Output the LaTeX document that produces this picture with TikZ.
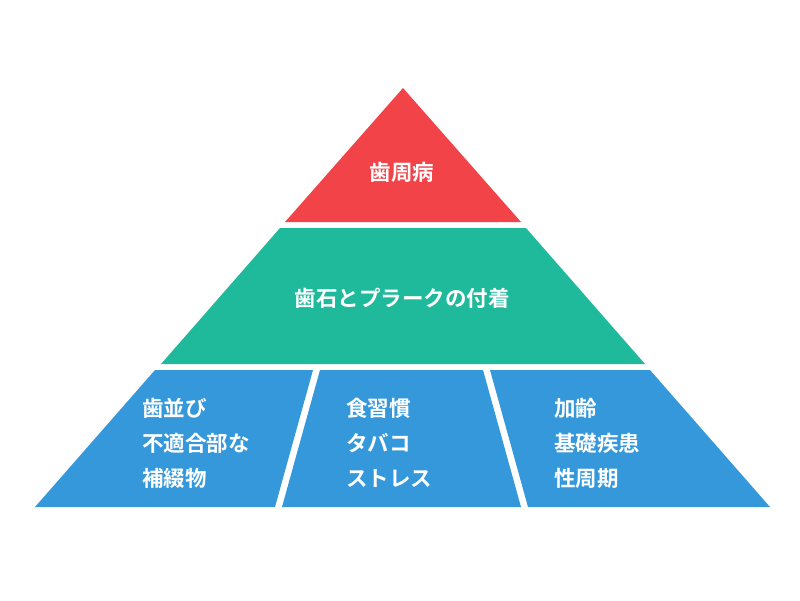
\documentclass[tikz,border=0pt]{standalone}
\usepackage{fontspec}
\newfontfamily\jp{Noto Sans CJK JP Bold}
\definecolor{topred}{HTML}{F24349}
\definecolor{midgreen}{HTML}{1FBA9B}
\definecolor{lowblue}{HTML}{3498DB}
\begin{document}
\begin{tikzpicture}[x=1pt,y=-1pt]
\tikzstyle{lbl} = [text=white, font=\jp\fontsize{21.5}{35}\selectfont, inner sep=0pt]
\tikzstyle{col} = [lbl, anchor=west, align=left]
\useasboundingbox (0,0) rectangle (800,600);
\fill[topred] (403,88) -- (521,222) -- (285,222) -- cycle;
\fill[midgreen] (280,228) -- (526,228) -- (645,364) -- (161,364) -- cycle;
\fill[lowblue] (155,370) -- (313,370) -- (275,507) -- (35,507) -- cycle;
\fill[lowblue] (320,370) -- (483,370) -- (521,507) -- (282,507) -- cycle;
\fill[lowblue] (490,370) -- (650,370) -- (770,507) -- (528,507) -- cycle;
\node(disease) [lbl] at (402,172) {歯周病};
\node(plaque) [lbl] at (402,298) {歯石とプラークの付着};
\node(left) [col] at (142,443) {歯並び\\不適合部な\\補綴物};
\node(middle) [col] at (346,443) {食習慣\\タバコ\\ストレス};
\node(right) [col] at (554,443) {加齢\\基礎疾患\\性周期};
\end{tikzpicture}
\end{document}
